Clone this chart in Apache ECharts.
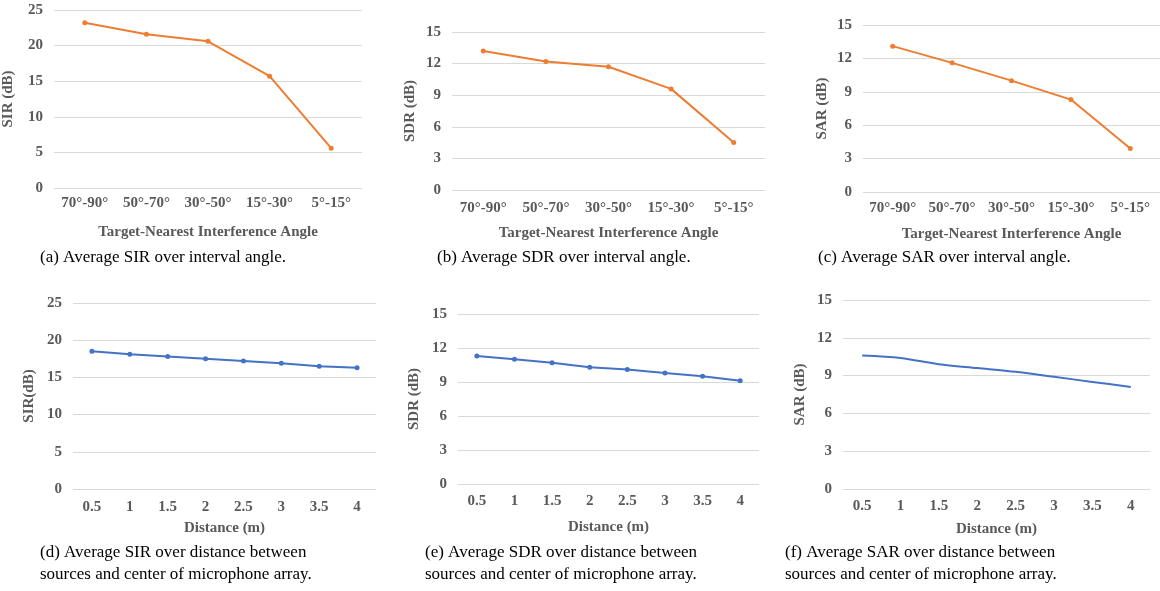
<!DOCTYPE html>
<html>
<head>
<meta charset="utf-8">
<script src="https://cdn.jsdelivr.net/npm/echarts@6/dist/echarts.min.js"></script>
<style>
  html, body { margin: 0; padding: 0; background: #fff; }
  #chart { width: 1160px; height: 591px; }
</style>
</head>
<body>
<div id="chart"></div>
<script>
// categories
const angleCats = ['70°-90°', '50°-70°', '30°-50°', '15°-30°', '5°-15°'];
const distCats = ['0.5', '1', '1.5', '2', '2.5', '3', '3.5', '4'];

// series values
const sirAngle = [23.2, 21.6, 20.6, 15.7, 5.6];
const sdrAngle = [13.2, 12.2, 11.7, 9.6, 4.5];
const sarAngle = [13.1, 11.6, 10.0, 8.3, 3.9];
const sirDist = [18.5, 18.1, 17.8, 17.5, 17.2, 16.9, 16.5, 16.3];
const sdrDist = [11.3, 11.0, 10.7, 10.3, 10.1, 9.8, 9.5, 9.1];
const sarDist = [10.6, 10.4, 9.9, 9.6, 9.3, 8.9, 8.5, 8.1];

// y ticks
const sirTicks = { min: 0, max: 25, interval: 5 };
const dbTicks = { min: 0, max: 15, interval: 3 };

const ORANGE = '#ED7D31';
const BLUE = '#4472C4';
const TEXT = '#595959';
const GRID = '#D9D9D9';
const FONT = 'Liberation Serif';

// one panel per entry: grid box, axis names, gaps
const panels = [
  { grid: [53, 10, 309, 178], cats: angleCats, data: sirAngle, ticks: sirTicks, yName: 'SIR (dB)', xName: 'Target-Nearest Interference Angle', color: ORANGE, yGap: 38, xMargin: 8, xGap: 37, marker: true },
  { grid: [452, 32, 313, 158], cats: angleCats, data: sdrAngle, ticks: dbTicks, yName: 'SDR (dB)', xName: 'Target-Nearest Interference Angle', color: ORANGE, yGap: 34, xMargin: 11, xGap: 36, marker: true },
  { grid: [863, 25, 298, 167], cats: angleCats, data: sarAngle, ticks: dbTicks, yName: 'SAR (dB)', xName: 'Target-Nearest Interference Angle', color: ORANGE, yGap: 33, xMargin: 9, xGap: 35, marker: true },
  { grid: [73, 303, 303, 186], cats: distCats, data: sirDist, ticks: sirTicks, yName: 'SIR(dB)', xName: 'Distance (m)', color: BLUE, yGap: 36, xMargin: 11, xGap: 32, marker: true },
  { grid: [458, 314, 301, 170], cats: distCats, data: sdrDist, ticks: dbTicks, yName: 'SDR (dB)', xName: 'Distance (m)', color: BLUE, yGap: 36, xMargin: 10, xGap: 36, marker: true },
  { grid: [843, 300, 307, 189], cats: distCats, data: sarDist, ticks: dbTicks, yName: 'SAR (dB)', xName: 'Distance (m)', color: BLUE, yGap: 35, xMargin: 10, xGap: 33, marker: false }
];

const captions = [
  { x: 40, y: 258, text: '(a) Average SIR over interval angle.' },
  { x: 437, y: 258, text: '(b) Average SDR over interval angle.' },
  { x: 818, y: 258, text: '(c) Average SAR over interval angle.' },
  { x: 40, y: 553, text: '(d) Average SIR over distance between' },
  { x: 40, y: 575, text: 'sources and center of microphone array.' },
  { x: 425, y: 553, text: '(e) Average SDR over distance between' },
  { x: 425, y: 575, text: 'sources and center of microphone array.' },
  { x: 785, y: 553, text: '(f) Average SAR over distance between' },
  { x: 785, y: 575, text: 'sources and center of microphone array.' }
];

const labelStyle = { color: TEXT, fontFamily: FONT, fontWeight: 'bold', fontSize: 15 };

const option = {
  animation: false,
  grid: panels.map(p => ({
    left: p.grid[0], top: p.grid[1], width: p.grid[2], height: p.grid[3]
  })),
  xAxis: panels.map((p, i) => ({
    type: 'category',
    gridIndex: i,
    data: p.cats,
    boundaryGap: true,
    name: p.xName,
    nameLocation: 'middle',
    nameGap: p.xGap,
    nameTextStyle: labelStyle,
    axisLine: { show: false },
    axisTick: { show: false },
    axisLabel: { ...labelStyle, interval: 0, margin: p.xMargin }
  })),
  yAxis: panels.map((p, i) => ({
    type: 'value',
    gridIndex: i,
    min: p.ticks.min,
    max: p.ticks.max,
    interval: p.ticks.interval,
    name: p.yName,
    nameLocation: 'middle',
    nameGap: p.yGap,
    nameRotate: 90,
    nameTextStyle: labelStyle,
    axisLine: { show: false },
    axisTick: { show: false },
    axisLabel: { ...labelStyle, margin: 11 },
    splitLine: { show: true, lineStyle: { color: GRID, width: 1 } }
  })),
  series: panels.map((p, i) => ({
    type: 'line',
    xAxisIndex: i,
    yAxisIndex: i,
    data: p.data,
    smooth: !p.marker ? 0.3 : false,
    showSymbol: p.marker,
    symbol: 'circle',
    symbolSize: 5,
    lineStyle: { color: p.color, width: 2 },
    itemStyle: { color: p.color }
  })),
  graphic: captions.map(c => ({
    type: 'text',
    x: c.x,
    y: c.y,
    style: {
      text: c.text,
      fill: '#000',
      font: '17px "Liberation Serif"',
      verticalAlign: 'middle'
    }
  }))
};

const myChart = echarts.init(document.getElementById('chart'));
myChart.setOption(option);
</script>
</body>
</html>
